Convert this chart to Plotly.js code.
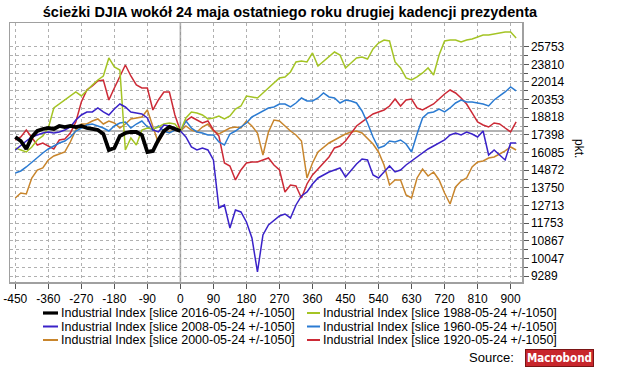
<!DOCTYPE html>
<html>
<head>
<meta charset="utf-8">
<script src="https://cdn.plot.ly/plotly-3.0.1.min.js"></script>
<style>html,body{margin:0;padding:0;background:#fff;}#chart{width:640px;height:372px;}</style>
</head>
<body>
<div id="chart"></div>
<script>
// ---- data (days relative to 24 May of the last year of the 2nd term) ----
const days = [-450,-435,-420,-405,-390,-375,-360,-345,-330,-315,-300,-285,-270,-255,-240,-225,-210,-195,-180,-165,-150,-135,-120,-105,-90,-75,-60,-45,-30,-15,0,
  15,30,45,60,75,90,105,120,135,150,165,180,195,210,225,240,255,270,285,300,315,330,345,360,375,390,405,420,435,450,465,480,495,510,525,540,555,570,585,600,615,630,645,660,675,690,705,720,735,750,765,780,795,810,825,840,855,870,885,900,915];
const days2016 = [-450,-435,-420,-405,-390,-375,-360,-345,-330,-315,-300,-285,-270,-255,-240,-225,-210,-195,-180,-165,-150,-135,-120,-105,-90,-75,-60,-45,-30,-15,0];

const s2016 = [17240,16937,16346,17240,17706,17864,17943,17864,18104,18023,18104,18023,18104,17943,17864,17785,17472,16274,16418,17316,17549,17628,17628,17394,16129,16201,17012,17706,18023,17864,17706];

const s1988 = [16420,16274,16131,16492,17012,17318,17943,19612,19962,20319,20685,21057,20685,21244,21720,22208,22606,24489,23530,23217,16274,17165,16638,17785,17943,17864,18023,18264,18344,18264,17706,
  18760,19267,19182,19011,18677,18760,18927,18677,18927,19524,19786,20685,20594,20502,20963,21434,21818,22407,22507,23013,24058,24165,24058,25039,23635,24165,24708,25151,24817,23426,23952,24489,24598,24380,25487,26177,26526,26410,24058,23426,22407,22208,22507,22911,23426,22706,24817,26410,26526,26526,26293,26526,26645,26884,27122,27122,27244,27366,27487,27487,26765];

const s2008 = [16274,16638,16937,17240,17394,17549,17628,17549,17628,17785,18023,18593,19011,19267,19267,19612,19267,19011,19524,19962,19699,19267,19182,19096,18760,17785,17628,18184,18104,17943,17706,
  17240,16492,16274,16420,16274,15566,12577,12746,11509,12465,12356,11819,11008,9465,11155,11663,11923,12138,12247,12031,12746,13266,13504,13993,14371,14563,14758,14889,15023,14435,14889,15292,15636,15566,14563,14371,14758,15157,14758,14889,15224,15498,15776,16059,16347,16565,16787,17012,17394,17549,17394,17628,17472,17240,17706,15916,16274,15916,15566,16787,16787];

const s1960 = [14693,14824,15090,15429,15776,16059,16347,16565,16787,16937,17240,17706,17943,18184,18264,18104,17943,17706,18104,18347,18429,17943,18264,18511,18023,17785,18104,17706,17549,17785,17706,
  18511,17943,17628,17549,17394,17394,16862,16638,17472,17706,18023,18347,18844,19096,19353,19612,19699,19962,19962,19699,20051,20502,20230,20230,20502,20963,20594,20502,20051,20319,20230,20051,19353,18347,17240,16420,16565,16937,16862,17012,16713,16131,17472,18760,19182,19267,19524,19267,19612,20051,20319,20141,20141,20051,19962,19786,20319,20685,21057,21530,21150];

const s2000 = [13149,13444,13385,14371,14889,15023,15566,15846,15987,16131,16862,17785,18264,18264,18511,18677,18264,18511,18347,17943,18264,18677,18760,18844,19438,18023,16787,17628,17628,17785,17706,
  18104,17785,17628,18023,18264,17706,17472,17706,17943,18023,17943,18511,18104,17549,15916,17628,18593,18511,18104,17706,17394,16937,14371,15361,16131,16492,16787,17012,17240,17472,17628,17706,17549,17090,16713,16131,15224,13930,14243,14243,13325,13149,14371,14956,14498,14758,14243,13444,12803,13807,14180,14371,15090,15429,15498,15706,15776,15987,16202,16492,16274];

const s1920 = [17012,17240,17785,17165,16638,16787,16565,16347,17012,17090,17549,18429,20141,21244,21625,22110,22208,20319,21434,22606,23739,22606,21720,21434,21434,19438,20319,21057,21057,19011,17706,
  18511,18844,18593,18347,18511,17785,17318,15361,15157,14243,14889,15361,15429,15429,15566,15706,15224,14889,13504,13930,13869,13149,13993,14563,14956,15361,15776,16420,16565,16937,17549,18104,18429,18760,19096,19267,19438,19786,20410,19786,20319,20410,19612,19438,19699,19962,20410,20870,21244,20963,20502,19962,19182,18429,18184,18023,18347,18264,17943,17628,18429];

const seriesNames = [
  'Industrial Index [slice 2016-05-24 +/-1050]',
  'Industrial Index [slice 1988-05-24 +/-1050]',
  'Industrial Index [slice 2008-05-24 +/-1050]',
  'Industrial Index [slice 1960-05-24 +/-1050]',
  'Industrial Index [slice 2000-05-24 +/-1050]',
  'Industrial Index [slice 1920-05-24 +/-1050]'
];
const seriesColors = ['#000000','#a4c424','#3a22c8','#2b7bd2','#c8852c','#cc2a36'];

const xTicks = [-450,-360,-270,-180,-90,0,90,180,270,360,450,540,630,720,810,900];
const yTicks = [9289,10047,10867,11753,12713,13750,14872,16085,17398,18818,20353,22014,23810,25753];

const titleText = 'ścieżki DJIA wokół 24 maja ostatniego roku drugiej kadencji prezydenta';
const yUnit = 'pkt.';
const sourceLabel = 'Source:';
const sourceBrand = 'Macrobond';

// ---- build ----
const FONT = 'Liberation Sans, Arial, Helvetica, sans-serif';
const allX = [days2016, days, days, days, days, days];
const allY = [s2016, s1988, s2008, s1960, s2000, s1920];
const widths = [3.8, 1.5, 1.5, 1.5, 1.5, 1.5];
const drawOrder = [4, 5, 3, 1, 2, 0];

const traces = drawOrder.map(i => ({
  type: 'scatter', mode: 'lines', x: allX[i], y: allY[i], name: seriesNames[i],
  line: {color: seriesColors[i], width: widths[i]}, showlegend: false, hoverinfo: 'skip'
}));

const yMinor = [];
for (let i = 0; i < yTicks.length - 1; i++) yMinor.push(Math.sqrt(yTicks[i] * yTicks[i + 1]));

// plot area in pixels
const PL = 10, PR = 522, PT = 23, PB = 282;
const px = v => (v - PL) / (PR - PL);
const py = v => (PB - v) / (PB - PT);

const shapes = [
  {type: 'line', xref: 'x', yref: 'paper', x0: 0, x1: 0, y0: 0, y1: 1, line: {color: '#9a9a9a', width: 1.5}, layer: 'below'},
  {type: 'line', xref: 'paper', yref: 'y', x0: 0, x1: 1, y0: s2016[s2016.length - 1], y1: s2016[s2016.length - 1], line: {color: '#9a9a9a', width: 1.5}, layer: 'below'}
];
const annotations = [];

// legend: 2 columns x 3 rows, row-major
const legRows = [313, 326.5, 340];
const legCols = [{l0: 43, l1: 58, t: 59}, {l0: 307, l1: 320, t: 321}];
seriesNames.forEach((nm, i) => {
  const r = Math.floor(i / 2), c = i % 2;
  const col = legCols[c], yy = legRows[r];
  shapes.push({type: 'line', xref: 'paper', yref: 'paper', x0: px(col.l0), x1: px(col.l1), y0: py(yy), y1: py(yy),
    line: {color: seriesColors[i], width: i === 0 ? 3.2 : 2}});
  annotations.push({xref: 'paper', yref: 'paper', x: px(col.t), y: py(yy), xanchor: 'left', yanchor: 'middle',
    text: nm, showarrow: false, font: {family: FONT, size: 12.5, color: '#000'}});
});

annotations.push({xref: 'paper', yref: 'paper', x: px(516), y: py(357), xanchor: 'right', yanchor: 'middle',
  text: sourceLabel, showarrow: false, font: {family: FONT, size: 13, color: '#000'}});
annotations.push({xref: 'paper', yref: 'paper', x: px(559), y: py(357.5), xanchor: 'center', yanchor: 'middle',
  text: '<b>' + sourceBrand + '</b>', showarrow: false, bgcolor: '#c8262c', bordercolor: '#7a1414', borderwidth: 1, borderpad: 1,
  font: {family: 'Liberation Sans Narrow, DejaVu Sans Condensed, Arial Narrow, sans-serif', size: 11.5, color: '#ffffff'}});
annotations.push({xref: 'paper', yref: 'paper', x: px(579), y: py(148), xanchor: 'center', yanchor: 'middle', textangle: 90,
  text: yUnit, showarrow: false, font: {family: FONT, size: 12, color: '#000'}});

const gridCol = '#b0b0b0';
const layout = {
  width: 640, height: 372,
  margin: {l: PL, r: 640 - PR, t: PT, b: 372 - PB},
  paper_bgcolor: '#ffffff', plot_bgcolor: '#ffffff',
  font: {family: FONT, size: 12, color: '#000'},
  title: {text: '<b>' + titleText + '</b>', x: 0.453, xanchor: 'center', y: 0.968, yanchor: 'middle',
    font: {family: FONT, size: 14.5, color: '#000'}},
  xaxis: {
    range: [-464.4, 931], tickmode: 'array', tickvals: xTicks, ticktext: xTicks.map(String),
    ticks: 'outside', ticklen: 5, tickcolor: '#555', tickwidth: 1,
    showgrid: true, gridcolor: gridCol, griddash: 'dot', gridwidth: 1,
    showline: true, mirror: true, linecolor: '#a0a0a0', linewidth: 1.5, zeroline: false,
    tickfont: {family: FONT, size: 12, color: '#000'}, fixedrange: true
  },
  yaxis: {
    type: 'log', side: 'right', range: [Math.log10(9053), Math.log10(28606)],
    tickmode: 'array', tickvals: yTicks, ticktext: yTicks.map(String),
    ticks: 'outside', ticklen: 5, tickcolor: '#555', tickwidth: 1,
    showgrid: true, gridcolor: gridCol, griddash: 'dot', gridwidth: 1,
    minor: {tickmode: 'array', tickvals: yMinor, ticks: 'outside', ticklen: 4, tickcolor: '#555',
      showgrid: true, gridcolor: gridCol, griddash: 'dot', gridwidth: 1},
    showline: true, mirror: true, linecolor: '#a0a0a0', linewidth: 1.5, zeroline: false,
    tickfont: {family: FONT, size: 12, color: '#000'}, fixedrange: true
  },
  shapes: shapes,
  annotations: annotations,
  showlegend: false
};

Plotly.newPlot('chart', traces, layout, {displayModeBar: false, staticPlot: true});
</script>
</body>
</html>
